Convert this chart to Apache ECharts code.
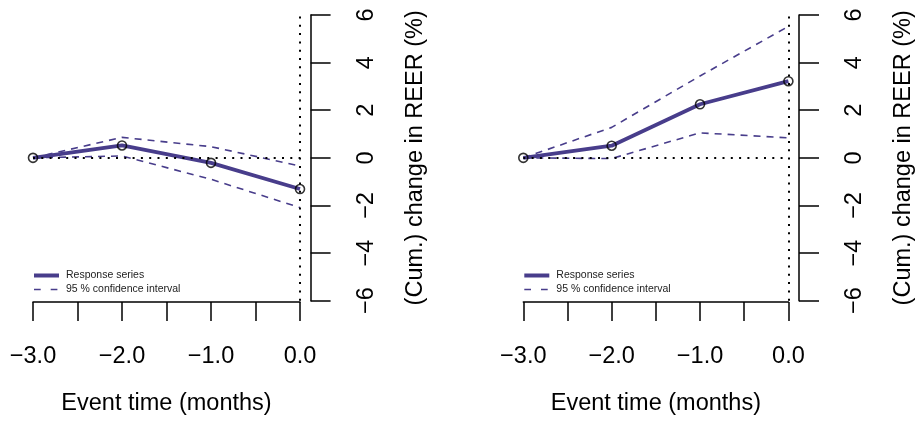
<!DOCTYPE html>
<html><head><meta charset="utf-8">
<script src="https://cdn.jsdelivr.net/npm/echarts@6/dist/echarts.min.js"></script>
<style>html,body{margin:0;padding:0;background:#fff}#c{width:917px;height:421px}</style>
</head><body><div id="c"></div>
<script>
const eventTime = [-3, -2, -1, 0];
const leftResponse = [0, 0.52, -0.21, -1.31];
const leftUpper = [0, 0.86, 0.47, -0.34];
const leftLower = [0, 0.08, -0.90, -2.09];
const rightResponse = [0, 0.51, 2.25, 3.22];
const rightUpper = [0, 1.28, 3.44, 5.52];
const rightLower = [0, -0.03, 1.05, 0.84];
const xTickStep = 0.5;
const yTickStep = 2;
const xTitle = 'Event time (months)';
const yTitle = '(Cum.) change in REER (%)';
const respName = 'Response series';
const ciName = '95 % confidence interval';

const PURPLE = '#483D8B';
const FONT = 'Liberation Sans, Arial, Helvetica, sans-serif';
const pts = arr => eventTime.map((t, i) => [t, arr[i]]);
const fmtX = v => Math.abs(v - Math.round(v)) < 1e-9 ? (v < 0 ? '\u2212' : '') + Math.abs(v).toFixed(1) : '';
const fmtY = v => (v < 0 ? '\u2212' : '') + Math.abs(v);

const grids = [
  {left: 33, right: 617, top: 15, bottom: 120.3},
  {left: 523.3, right: 127, top: 15, bottom: 120.3}
];
const panels = [
  {resp: leftResponse, up: leftUpper, lo: leftLower},
  {resp: rightResponse, up: rightUpper, lo: rightLower}
];

const xAxis = [], yAxis = [], series = [], legend = [];
panels.forEach((p, g) => {
  xAxis.push({
    type: 'value', gridIndex: g, min: -3, max: 0, interval: xTickStep, offset: 1.3,
    axisLine: {show: true, onZero: false, lineStyle: {color: '#000', width: 1.5}},
    axisTick: {show: true, length: 19, lineStyle: {color: '#000', width: 1.5}},
    axisLabel: {formatter: fmtX, margin: 43, fontSize: 23.5, color: '#000', fontFamily: FONT, showMinLabel: true, showMaxLabel: true, hideOverlap: false},
    splitLine: {show: false},
    name: xTitle, nameLocation: 'middle', nameGap: 90,
    nameTextStyle: {fontSize: 23.5, color: '#000', fontFamily: FONT}
  });
  yAxis.push({
    type: 'value', gridIndex: g, position: 'right', min: -6, max: 6, interval: yTickStep, offset: 10.6,
    axisLine: {show: true, onZero: false, lineStyle: {color: '#000', width: 1.5}},
    axisTick: {show: true, length: 20, lineStyle: {color: '#000', width: 1.5}},
    axisLabel: {formatter: fmtY, rotate: 90, margin: 44, fontSize: 23.5, color: '#000', fontFamily: FONT, showMinLabel: true, showMaxLabel: true},
    splitLine: {show: false},
    name: yTitle, nameLocation: 'middle', nameRotate: 90, nameGap: 93,
    nameTextStyle: {fontSize: 23.5, color: '#000', fontFamily: FONT}
  });
  series.push({
    type: 'line', name: ciName, xAxisIndex: g, yAxisIndex: g, data: pts(p.up), symbol: 'none',
    lineStyle: {color: PURPLE, width: 1.6, type: [7, 6]}, itemStyle: {color: PURPLE}, z: 2,
    markLine: {
      silent: true, symbol: 'none', label: {show: false},
      lineStyle: {color: '#000', width: 2, type: [2, 6.3]},
      data: [{yAxis: 0}, {xAxis: 0}]
    }
  });
  series.push({
    type: 'line', name: ciName, xAxisIndex: g, yAxisIndex: g, data: pts(p.lo), symbol: 'none',
    lineStyle: {color: PURPLE, width: 1.6, type: [7, 6]}, itemStyle: {color: PURPLE}, z: 2
  });
  series.push({
    type: 'line', name: respName, xAxisIndex: g, yAxisIndex: g, data: pts(p.resp), symbol: 'none',
    lineStyle: {color: PURPLE, width: 3.8}, itemStyle: {color: PURPLE}, z: 3
  });
  series.push({
    type: 'scatter', name: 'points', xAxisIndex: g, yAxisIndex: g, data: pts(p.resp),
    symbol: 'circle', symbolSize: 9,
    itemStyle: {color: 'rgba(0,0,0,0)', borderColor: '#000', borderWidth: 1.6}, z: 4
  });
  legend.push({
    orient: 'vertical', left: grids[g].left - 1, top: 270, padding: 0,
    itemWidth: 25, itemHeight: 10, itemGap: 3, selectedMode: false,
    itemStyle: {opacity: 0},
    textStyle: {fontSize: 10.5, color: '#222', fontFamily: FONT, padding: [0, 0, 0, 2]},
    data: [
      {name: respName, lineStyle: {width: 4, color: PURPLE}, itemStyle: {opacity: 0}},
      {name: ciName, lineStyle: {width: 1.6, color: PURPLE, type: [6.7, 10]}, itemStyle: {opacity: 0}}
    ]
  });
});

const chart = echarts.init(document.getElementById('c'), null, {renderer: 'canvas'});
chart.setOption({
  animation: false,
  backgroundColor: '#fff',
  grid: grids,
  xAxis, yAxis, series, legend
});
</script></body></html>
